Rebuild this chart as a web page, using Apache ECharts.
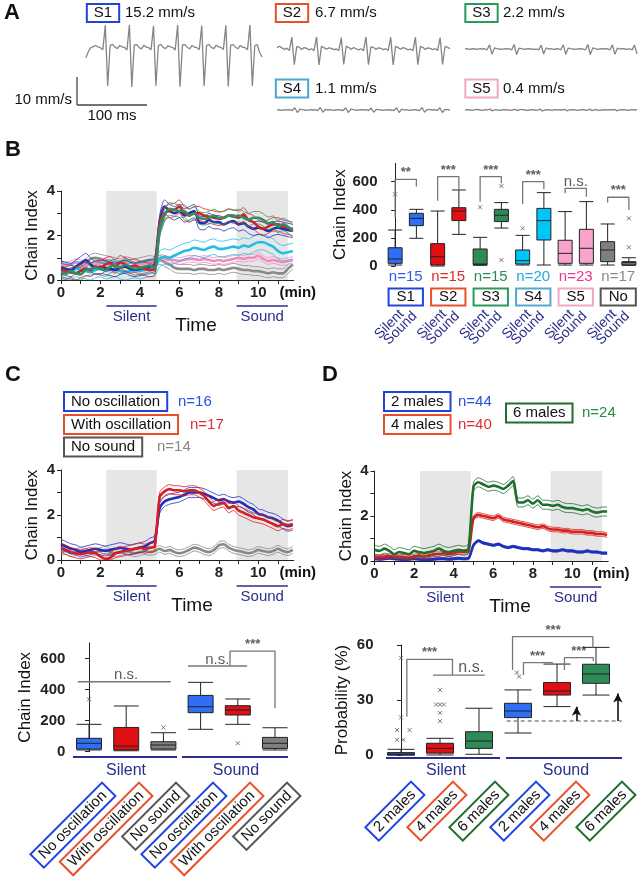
<!DOCTYPE html>
<html><head><meta charset="utf-8">
<script src="https://cdn.jsdelivr.net/npm/echarts@6/dist/echarts.min.js"></script>
<style>html,body{margin:0;padding:0;background:#fff}#c{width:644px;height:884px}</style>
</head><body><div id="c"></div>
<script>
const FONT = '"Liberation Sans", Arial, Helvetica, sans-serif';

// ---------- Panel A: example waveforms (mm/s) ----------
const waveS1 = [-3.5,-1.2,0.1,0.5,0.9,0.4,0.1,-0.6,
 8.1,-13.6,0.9,1.3,0.3,-0.2,0.9,0.4,0.2,-0.7,
 8.3,-13.9,1.0,1.2,0.2,-0.3,1.0,0.3,0.1,-0.6,
 7.9,-13.5,0.8,1.3,0.2,-0.2,0.8,0.4,0.2,-0.7,
 8.2,-13.8,1.1,1.2,0.3,-0.3,0.9,0.3,0.1,-0.6,
 8.0,-13.6,0.9,1.3,0.2,-0.2,1.0,0.4,0.2,-0.5,
 8.1,-13.7,1.0,1.2,0.3,-0.3,0.9,0.3,0.1,-0.6,
 8.2,-13.6,0.8,1.2,-1.5,-3.2];
const waveS2 = [0.5,1.0,0.4,-0.2,0.3,
 -0.5,4.2,-5.6,0.9,0.6,-0.2,0.5,0.2,-0.3,0.1,
 -0.6,4.3,-5.7,1.0,0.5,-0.1,0.4,0.2,-0.2,0.0,
 -0.5,4.1,-5.5,0.9,0.6,-0.2,0.5,0.1,-0.3,0.1,
 -0.6,4.3,-5.6,0.8,0.6,-0.2,0.4,0.2,-0.2,0.1,
 -0.5,4.2,-5.7,1.0,0.5,-0.1,0.5,0.2,-0.3,0.0,
 -0.6,4.2,-5.6,0.9,0.6,-0.2,0.4,0.2,-0.2,0.1,
 -0.5,4.1,-5.5,0.9,0.6,0.1];
const waveS3 = [0.1,0.0,-0.1,0.1,0.0,-0.1,0.1,0.0,0.1,-0.3,
 1.5,-1.9,0.4,0.1,0.0,-0.1,0.1,0.0,0.1,-0.3,
 1.6,-2.0,0.3,0.1,-0.1,0.0,0.1,0.0,-0.1,0.0,-0.3,
 1.4,-1.8,0.4,0.0,0.1,-0.1,0.0,0.1,-0.3,
 1.5,-1.9,0.3,0.1,0.0,-0.1,0.0,0.1,0.0,-0.3,
 1.6,-2.0,0.4,0.1,-0.1,0.0,0.1,0.0,0.1,-0.3,
 1.5,-1.9,0.3,0.0,0.1,0.0,-0.1,0.1,-0.3,
 1.4,-1.8];
const waveS4 = [0.1,0.0,-0.1,0.1,0.0,0.1,-0.2,
 0.8,-0.9,0.3,0.1,0.0,-0.1,0.1,0.0,0.1,-0.2,
 0.9,-0.8,0.2,0.0,0.1,-0.1,0.0,0.1,0.0,-0.2,
 0.8,-0.9,0.3,0.1,-0.1,0.0,0.1,0.0,0.1,-0.2,
 0.7,-0.8,0.2,0.1,0.0,-0.1,0.1,0.0,0.0,-0.2,
 0.8,-0.9,0.3,0.0,0.1,-0.1,0.0,0.1,0.0,-0.2,
 0.9,-0.8,0.2,0.1,0.0,0.1,-0.2,
 0.8,-0.9,0.2,0.1,0.0];
const waveS5 = [0.0,0.1,0.0,-0.1,0.1,0.2,0.0,-0.1,0.1,0.0,
 0.3,-0.3,0.1,0.0,-0.1,0.1,0.0,0.1,-0.1,0.0,
 0.2,-0.2,0.1,0.1,0.0,-0.1,0.0,0.1,0.0,-0.1,
 0.3,-0.3,0.0,0.1,0.0,-0.1,0.1,0.0,0.1,0.0,
 0.2,-0.3,0.1,0.0,0.1,-0.1,0.0,0.1,0.0,-0.1,
 0.3,-0.2,0.1,0.0,-0.1,0.0,0.1,0.0,0.1,0.0,
 0.2,-0.3,0.1,0.0,0.1,-0.1,0.0,0.1,0.0,0.1];
const waveLabels = ['S1','S2','S3','S4','S5'];
const waveSpeeds = ['15.2 mm/s','6.7 mm/s','2.2 mm/s','1.1 mm/s','0.4 mm/s'];

// ---------- time axis (min) ----------
const timeMin = [0,0.25,0.5,0.75,1,1.25,1.5,1.75,2,2.25,2.5,2.75,3,3.25,3.5,3.75,4,4.25,4.5,4.75,
 5,5.25,5.5,5.75,6,6.25,6.5,6.75,7,7.25,7.5,7.75,8,8.25,8.5,8.75,9,9.25,9.5,9.75,10,10.25,10.5,10.75,11,11.25,11.5,11.75];
const silentPeriod = [2.3, 4.85];
const soundPeriod = [8.9, 11.5];
const soundOnset = 5.0;

// ---------- Panel B: chain index time course ----------
const bS1 = [0.55,0.5,0.45,0.6,0.75,0.9,0.7,0.55,0.6,0.55,0.5,0.45,0.55,0.6,0.5,0.45,0.5,0.55,0.6,0.7,
 2.6,3.3,3.1,3.0,3.1,2.9,3.0,3.1,2.6,2.55,2.7,2.6,2.6,2.5,2.6,2.65,2.5,2.55,2.4,2.3,2.35,2.3,2.2,2.3,2.35,2.3,2.25,2.2];
const bS2 = [0.45,0.4,0.35,0.3,0.4,0.5,0.45,0.6,0.55,0.7,0.75,0.6,0.8,0.7,0.6,0.65,0.55,0.5,0.45,0.5,
 2.4,3.0,3.1,3.15,3.3,3.0,2.9,3.0,3.0,2.9,2.85,2.8,2.75,2.8,2.9,2.85,2.8,2.95,2.7,2.6,2.4,2.3,2.4,2.5,2.5,2.4,2.35,2.3];
const bS3 = [0.35,0.3,0.4,0.3,0.25,0.45,0.5,0.55,0.5,0.45,0.6,0.65,0.55,0.7,0.6,0.5,0.55,0.6,0.65,0.55,
 2.2,2.9,3.2,3.15,3.1,3.1,2.9,3.0,2.8,2.75,2.8,2.9,2.8,2.8,2.9,2.85,2.9,2.8,2.7,2.8,2.8,2.7,2.55,2.6,2.4,2.5,2.4,2.2];
const bS4 = [0.45,0.4,0.35,0.5,0.45,0.4,0.35,0.45,0.5,0.4,0.45,0.5,0.4,0.35,0.4,0.45,0.4,0.45,0.5,0.55,
 0.95,1.05,1.0,1.1,1.2,1.3,1.35,1.45,1.4,1.35,1.45,1.5,1.4,1.4,1.45,1.5,1.45,1.55,1.5,1.6,1.7,1.7,1.6,1.5,1.3,1.2,1.25,1.3];
const bS5 = [0.7,0.65,0.7,0.8,0.75,0.7,0.65,0.7,0.75,0.8,0.7,0.65,0.7,0.75,0.8,0.75,0.7,0.75,0.8,0.85,
 1.0,0.95,0.9,0.9,0.85,0.9,0.95,0.95,0.9,0.95,0.9,0.85,0.9,0.85,0.9,0.95,1.0,0.95,1.0,1.0,1.1,0.95,0.85,0.9,0.85,0.8,0.85,0.9];
const bNo = [0.4,0.45,0.5,0.55,0.6,0.75,0.95,1.0,0.95,0.9,0.85,0.8,0.75,0.85,0.8,0.75,0.8,0.85,0.9,0.85,
 0.9,0.8,0.7,0.55,0.5,0.5,0.5,0.45,0.5,0.5,0.45,0.45,0.5,0.45,0.5,0.55,0.5,0.45,0.45,0.4,0.4,0.35,0.3,0.35,0.3,0.3,0.5,0.7];
const bSem = [0.3, 0.3, 0.28, 0.35, 0.15, 0.2];

// ---------- Panel B: box plots (min, Q1, median, Q3, max) ----------
const bGroups = ['S1','S2','S3','S4','S5','No'];
const bN = ['n=15','n=15','n=15','n=20','n=23','n=17'];
const bBoxStats = [
 [7,19,50,130,256],[197,287,339,375,403],
 [0,7,66,159,391],[225,323,391,415,541],
 [5,9,14,121,204],[270,316,361,403,451],
 [7,14,38,114,218],[7,185,323,410,522],
 [7,19,90,183,387],[7,19,126,261,458],
 [7,31,114,173,299],[5,7,24,31,59]];
const bOutliers = [[0,510],[4,418],[5,569],[5,43],[6,268],[11,339],[11,133]];
const bSig = ['**','***','***','***','n.s.','***'];
const bBrackets = [
 [[0,346],[0,617],[1,617],[1,565]],
 [[2,465],[2,636],[3,636],[3,546]],
 [[4,458],[4,636],[5,636],[5,588]],
 [[6,441],[6,600],[7,600],[7,546]],
 [[8,517],[8,553],[9,553],[9,493]],
 [[10,451],[10,489],[11,489],[11,399]]];

// ---------- Panel C ----------
const cNo = [0.7,0.6,0.5,0.45,0.35,0.4,0.45,0.5,0.45,0.4,0.45,0.5,0.55,0.5,0.45,0.5,0.55,0.6,0.75,0.85,
 2.3,2.6,2.7,2.75,2.8,2.9,3.0,3.0,3.0,2.95,2.85,2.75,2.65,2.7,2.6,2.55,2.6,2.5,2.35,2.25,2.05,2.0,1.9,1.85,1.75,1.6,1.5,1.55];
const cWith = [0.55,0.45,0.35,0.3,0.25,0.3,0.35,0.3,0.15,0.05,0.1,0.3,0.35,0.4,0.45,0.5,0.55,0.5,0.55,0.6,
 2.8,3.05,3.15,3.1,3.1,3.05,3.1,3.1,3.0,2.85,2.6,2.4,2.5,2.55,2.3,2.4,2.2,2.1,2.0,1.9,1.85,1.8,1.7,1.6,1.5,1.6,1.55,1.6];
const cNoSound = [0.35,0.4,0.3,0.35,0.4,0.35,0.3,0.35,0.4,0.45,0.35,0.3,0.35,0.4,0.35,0.3,0.35,0.4,0.35,0.4,
 0.5,0.4,0.45,0.35,0.3,0.35,0.45,0.55,0.5,0.4,0.35,0.45,0.65,0.7,0.55,0.45,0.4,0.35,0.3,0.35,0.45,0.4,0.35,0.4,0.5,0.4,0.35,0.45];
const cSem = [0.22, 0.2, 0.15];
const cLegend = ['No oscillation','With oscillation','No sound'];
const cN = ['n=16','n=17','n=14'];
const cBoxStats = [[11,17,54,86,176],[6,11,36,156,294],[11,17,43,64,122],
 [144,251,289,362,446],[176,236,268,296,339],[11,21,54,92,154]];
const cOutliers = [[0,337],[2,156],[4,54]];

// ---------- Panel D ----------
const dTwo = [0.1,0.08,0.1,0.12,0.1,0.08,0.05,0.08,0.1,0.08,0.05,0.06,0.08,0.1,0.1,0.08,0.1,0.12,0.1,0.12,
 0.7,0.9,0.8,0.75,0.7,0.75,0.65,0.6,0.65,0.6,0.55,0.55,0.5,0.5,0.45,0.5,0.45,0.45,0.5,0.45,0.45,0.4,0.4,0.45,0.4,0.4,0.35,0.35];
const dFour = [0.2,0.18,0.2,0.22,0.2,0.2,0.18,0.15,0.2,0.25,0.2,0.25,0.3,0.3,0.35,0.3,0.35,0.4,0.4,0.45,
 1.9,2.05,2.0,1.95,1.9,2.0,1.85,1.8,1.75,1.7,1.65,1.6,1.55,1.5,1.55,1.45,1.4,1.4,1.35,1.35,1.3,1.3,1.3,1.25,1.25,1.2,1.2,1.15];
const dSix = [0.5,0.45,0.55,0.45,0.3,0.4,0.35,0.3,0.45,0.4,0.35,0.4,0.45,0.55,0.45,0.4,0.45,0.5,0.45,0.55,
 3.3,3.5,3.4,3.3,3.35,3.3,3.2,3.35,3.55,2.6,2.6,2.7,2.55,2.7,2.5,2.5,2.45,2.5,2.4,2.35,2.35,2.3,2.25,2.3,2.2,2.15,2.2,2.2];
const dSem = [0.05, 0.1, 0.2];
const dLegend = ['2 males','4 males','6 males'];
const dN = ['n=44','n=40','n=24'];
const dBoxStats = [[0,0,0.5,1.3,3.1],[0,1,3.6,6.4,9.1],[0.4,3.6,7.6,12.7,25.5],
 [12,20.4,24,28.2,35.5],[26.4,32.7,34.9,39.5,49.6],[32.7,39.1,44.2,49.5,58.7]];
const dOutliers = [[0,53],[0,20.5],[-0.1,13.6],[0.22,13.6],[-0.1,8.3],[0.06,8.3],
 [1,35.5],[0.9,27.5],[1,27.5],[1.1,27.5],[1,23],[1,18.5],[2.97,45],[3.03,42.8]];
const dChance = 18.5;
const dChanceSpan = [2.71, 5.66];
const dArrowTops = [[4.5,26.3],[5.56,33.6]];

// ---------- colours ----------
const C_BLUE='#1f2fc0', C_RED='#d81e1e', C_GREEN='#2e9060', C_CYAN='#20bfe8', C_PINK='#f08cbc', C_GRAY='#8a8a8a', C_DGREEN='#1e6e2e';
const F_BLUE='#2f6ef5', F_RED='#e10f14', F_GREEN='#2e8b57', F_CYAN='#00c5f7', F_PINK='#f9a3cb', F_GRAY='#7f7f7f';
const NAVY='#2b2e8c';

const chart = echarts.init(document.getElementById('c'), null, {renderer:'canvas'});
const grids=[], xAxes=[], yAxes=[], series=[], gfx=[];

function zip(arr){ return arr.map((v,i)=>[timeMin[i], v]); }
function T(x,y,text,o){ o=o||{};
  const st={text:String(text), font:(o.bold?'bold ':'')+(o.size||15)+'px '+FONT, fill:o.color||'#111',
    align:o.align||'left', verticalAlign:o.va||'middle'};
  if(o.border){ st.borderColor=o.border; st.borderWidth=o.bw||2; st.padding=o.pad||[1,6,1,6]; st.backgroundColor='#fff'; }
  gfx.push({type:'text', x:x, y:y, rotation:o.rot||0, style:st, z:50, silent:true});
}
function L(x1,y1,x2,y2,color,w){ gfx.push({type:'line', shape:{x1,y1,x2,y2}, style:{stroke:color, lineWidth:w||1}, z:50, silent:true}); }

// ---- Panel A grids ----
const waveGrids = [[86,20,176],[277,21,173],[465,21,172],[277,82,173],[465,82,172]];
const waves = [waveS1,waveS2,waveS3,waveS4,waveS5];
waves.forEach((w,i)=>{
  const g=grids.length;
  grids.push({left:waveGrids[i][0], top:waveGrids[i][1], width:waveGrids[i][2], height:72.8, outerBoundsMode:'none'});
  xAxes.push({type:'category', gridIndex:g, show:false, boundaryGap:false, data:w.map((_,k)=>k)});
  yAxes.push({type:'value', gridIndex:g, show:false, min:-16, max:10});
  series.push({type:'line', xAxisIndex:xAxes.length-1, yAxisIndex:yAxes.length-1, data:w, symbol:'none',
    lineStyle:{color:'#858585', width:1.3}, silent:true});
});

function timeXAxis(g){ return {type:'value', gridIndex:g, min:0, max:11.8,
  axisLine:{show:true, lineStyle:{color:'#222', width:1}},
  axisTick:{show:true, length:4, lineStyle:{color:'#222'}, customValues:[0,1,2,3,4,5,6,7,8,9,10,11]},
  axisLabel:{customValues:[0,2,4,6,8,10], fontWeight:'bold', fontSize:15, color:'#222', margin:5, fontFamily:FONT},
  splitLine:{show:false}}; }
function timeYAxis(g, gap){ return {type:'value', gridIndex:g, min:0, max:4, interval:1,
  axisLine:{show:true, lineStyle:{color:'#222', width:1}},
  axisTick:{show:true, length:4, lineStyle:{color:'#222'}},
  axisLabel:{formatter:v=>(v%2===0?String(v):''), fontWeight:'bold', fontSize:15, color:'#222', margin:6, fontFamily:FONT},
  splitLine:{show:false}, name:'Chain Index', nameLocation:'middle', nameGap:gap, nameRotate:90,
  nameTextStyle:{fontSize:17, color:'#111', fontFamily:FONT}}; }

function addTimeChart(left, top, width, height, groups, gap){
  const g=grids.length;
  grids.push({left, top, width, height, outerBoundsMode:'none'});
  xAxes.push(timeXAxis(g)); const xi=xAxes.length-1;
  yAxes.push(timeYAxis(g, gap)); const yi=yAxes.length-1;
  series.push({type:'line', xAxisIndex:xi, yAxisIndex:yi, data:[], clip:false, silent:true,
    markArea:{silent:true, itemStyle:{color:'#e6e6e6'}, data:[[{xAxis:silentPeriod[0]},{xAxis:silentPeriod[1]}],[{xAxis:soundPeriod[0]},{xAxis:soundPeriod[1]}]]},
    markLine:{silent:true, symbol:'none', label:{show:false}, lineStyle:{type:[2,3], color:'#333', width:2},
      data:[[{coord:[soundOnset,4]},{coord:[soundOnset,-0.9]}]]}});
  groups.forEach(([arr, sem, color])=>{
    const lo = arr.map(v=>Math.max(0,v-sem)), hi = arr.map(v=>v+sem);
    [lo,hi].forEach(a=>series.push({type:'line', xAxisIndex:xi, yAxisIndex:yi, data:zip(a), symbol:'none', smooth:0.25,
      lineStyle:{color, width:0.8}, silent:true}));
    series.push({type:'line', xAxisIndex:xi, yAxisIndex:yi, data:zip(arr), symbol:'none', smooth:0.25,
      lineStyle:{color, width:2.6}, silent:true});
  });
}

addTimeChart(61, 191, 232.8, 89, [[bNo,bSem[5],C_GRAY],[bS5,bSem[4],C_PINK],[bS4,bSem[3],C_CYAN],[bS1,bSem[0],C_BLUE],[bS2,bSem[1],C_RED],[bS3,bSem[2],C_GREEN]], 20);
addTimeChart(61, 470, 232.8, 90, [[cNoSound,cSem[2],'#888'],[cNo,cSem[0],C_BLUE],[cWith,cSem[1],C_RED]], 20);
addTimeChart(374.5, 471, 233.6, 90, [[dTwo,dSem[0],C_BLUE],[dFour,dSem[1],C_RED],[dSix,dSem[2],C_DGREEN]], 20);

// ---- box charts ----
const xSym = 'path://M0,0L10,10M10,0L0,10';
function addBoxChart(o){
  const g=grids.length;
  grids.push({left:o.left, top:o.top, width:o.width, height:o.height, outerBoundsMode:'none'});
  xAxes.push({type:'category', gridIndex:g, show:false, data:o.stats.map((_,i)=>i)}); const xc=xAxes.length-1;
  xAxes.push({type:'value', gridIndex:g, show:false, min:-0.5, max:o.stats.length-0.5}); const xv=xAxes.length-1;
  yAxes.push({type:'value', gridIndex:g, min:0, max:o.max, offset:o.offset||0,
    axisLine:{show:true, lineStyle:{color:'#222'}},
    axisTick:{show:true, length:4, lineStyle:{color:'#222'}, customValues:o.ticks},
    axisLabel:{customValues:o.ticks, fontWeight:'bold', fontSize:15, color:'#222', margin:5, fontFamily:FONT},
    splitLine:{show:false}, name:o.name, nameLocation:'middle', nameGap:o.nameGap, nameRotate:90,
    nameTextStyle:{fontSize:17, color:'#111', fontFamily:FONT}});
  const yi=yAxes.length-1;
  series.push({type:'boxplot', xAxisIndex:xc, yAxisIndex:yi, boxWidth:[o.boxW,o.boxW], silent:true,
    data:o.stats.map((s,i)=>({value:s, itemStyle:{color:o.fills[i], borderColor:'#222', borderWidth:1}}))});
  series.push({type:'scatter', xAxisIndex:xv, yAxisIndex:yi, data:o.outliers, symbol:xSym, symbolSize:4, silent:true,
    itemStyle:{color:'none', borderColor:'#555', borderWidth:1}});
  o.brackets.forEach(b=>series.push({type:'line', xAxisIndex:xv, yAxisIndex:yi, data:b, symbol:'none', clip:false, silent:true,
    lineStyle:{color:'#777', width:1.3}}));
  series.push({type:'scatter', xAxisIndex:xv, yAxisIndex:yi, symbolSize:0.1, clip:false, silent:true, itemStyle:{color:'transparent'},
    data:o.texts.map(t=>({value:[t[0],t[1]], label:{show:true, position:'top', distance:t[2]==='n.s.'?-1:0, formatter:t[2],
      fontSize:t[2]==='n.s.'?o.nsSize:13, fontWeight:t[2]==='n.s.'?'normal':'bold', color:'#333', fontFamily:FONT}}))});
  return {xv, yi};
}

addBoxChart({left:384.5, top:163.4, width:255, height:102.6, max:730, offset:2, ticks:[0,200,400,600],
  name:'Chain Index', nameGap:34, boxW:14, stats:bBoxStats,
  fills:[F_BLUE,F_BLUE,F_RED,F_RED,F_GREEN,F_GREEN,F_CYAN,F_CYAN,F_PINK,F_PINK,F_GRAY,F_GRAY],
  outliers:bOutliers, brackets:bBrackets, nsSize:15,
  texts:bBrackets.map((b,i)=>[(b[0][0]+b[2][0])/2, b[1][1], bSig[i]])});

addBoxChart({left:70.4, top:642.85, width:223.2, height:108.85, max:700, ticks:[0,200,400,600],
  name:'Chain Index', nameGap:37, boxW:25, stats:cBoxStats,
  fills:[F_BLUE,F_RED,F_GRAY,F_BLUE,F_RED,F_GRAY], outliers:cOutliers, nsSize:15,
  brackets:[[[-0.3,450],[2.2,450]],[[2.66,551],[4.25,551]],[[3.79,551],[3.79,647],[5.0,647],[5.0,279]]],
  texts:[[1,450,'n.s.'],[3.45,551,'n.s.'],[4.4,647,'***']]});

addBoxChart({left:381.5, top:645, width:234, height:110, max:60, offset:3, ticks:[0,30,60],
  name:'Probability (%)', nameGap:28, boxW:27, stats:dBoxStats,
  fills:[F_BLUE,F_RED,F_GREEN,F_BLUE,F_RED,F_GREEN], outliers:dOutliers, nsSize:16,
  brackets:[[[0.15,20.9],[0.15,52.2],[1.32,52.2],[1.32,43.6]],[[0.82,43.6],[2.15,43.6]],
    [[2.86,46.4],[2.86,64.6],[4.92,64.6],[4.92,58.7]],
    [[3.14,43.6],[3.14,50.4],[3.88,50.4],[3.88,49.1]],
    [[4.19,46.4],[4.19,53.1],[4.93,53.1],[4.93,51.3]]],
  texts:[[0.73,52.2,'***'],[1.8,43.6,'n.s.'],[3.9,64.6,'***'],[3.5,50.4,'***'],[4.56,53.1,'***']]});

// overlay grid (same scale as the D box chart, wider) for chance level and arrows
{
  const g=grids.length;
  grids.push({left:381.5, top:645, width:234*7/6, height:110, outerBoundsMode:'none'});
  xAxes.push({type:'value', gridIndex:g, show:false, min:-0.5, max:6.5}); const xo=xAxes.length-1;
  yAxes.push({type:'value', gridIndex:g, show:false, min:0, max:60}); const yo=yAxes.length-1;
  series.push({type:'line', xAxisIndex:xo, yAxisIndex:yo, data:[[dChanceSpan[0],dChance],[dChanceSpan[1],dChance]], symbol:'none', silent:true,
    lineStyle:{color:'#888', width:1.5, type:[4,3]},
    markLine:{silent:true, symbol:['none','arrow'], symbolSize:[7,9], label:{show:false}, lineStyle:{color:'#111', width:1.6, type:'solid'},
      data:dArrowTops.map(a=>[{coord:[a[0],dChance]},{coord:[a[0],a[1]]}])}});
}

// ---------- graphics: text annotations ----------
T(4,13,'A',{bold:true,size:22}); T(5,150,'B',{bold:true,size:22}); T(5,375,'C',{bold:true,size:22}); T(322,375,'D',{bold:true,size:22});
const waveLab = [[103,13,'#2244dd',125],[292,13,'#e8502a',315],[481.5,13,'#2a9a5a',503],[292,88.5,'#4aa8d0',315],[481.5,88.5,'#f0a8c8',503]];
waveLab.forEach((p,i)=>{ T(p[0],p[1],waveLabels[i],{align:'center',border:p[2],pad:[1,6,0,6]}); T(p[3],p[1],waveSpeeds[i],{size:15}); });
L(77,77,77,105,'#444',1.3); L(77,105,147,105,'#444',1.3);
T(72,100,'10 mm/s',{align:'right'}); T(112,116,'100 ms',{align:'center'});

function timeDeco(x0, y0, timeX){
  const px = m => x0 + m*19.73;
  T(px(12), y0+13, '(min)', {bold:true, align:'center'});
  L(px(silentPeriod[0]), y0+26, px(silentPeriod[1]), y0+26, NAVY, 1.6);
  L(px(soundPeriod[0]), y0+26, px(soundPeriod[1]), y0+26, NAVY, 1.6);
  T((px(silentPeriod[0])+px(silentPeriod[1]))/2, y0+37, 'Silent', {align:'center', color:NAVY, size:15});
  T((px(soundPeriod[0])+px(soundPeriod[1]))/2, y0+37, 'Sound', {align:'center', color:NAVY, size:15});
  T(timeX, y0+46, 'Time', {align:'center', size:19});
}
timeDeco(61, 280, 196); timeDeco(61, 560, 192); timeDeco(374.5, 561, 510);

const bNColors = ['#2a5bf0','#e3262b','#2a8a55','#22a8e0','#e8388a','#8a8a8a'];
const bBoxBorders = ['#2244dd','#e8502a','#2a9a5a','#55a8d0','#f0a8c8','#555'];
bGroups.forEach((gname,i)=>{
  const cx = 384.5 + 21.25*(2*i+1);
  T(cx, 277, bN[i], {align:'center', color:bNColors[i], size:15});
  T(cx, 297, gname, {align:'center', border:bBoxBorders[i], pad:[0,7,0,7]});
  T(cx-4, 312, 'Silent', {align:'right', color:NAVY, size:14, rot:Math.PI/4});
  T(cx+9, 314, 'Sound', {align:'right', color:NAVY, size:14, rot:Math.PI/4});
});

const cLegBorder = ['#2244dd','#e8502a','#555'];
const cNColor = ['#2a50e0','#e02a2a','#888'];
const cLegY = [401.5,424.5,447];
const cNX = [178,190,157];
cLegend.forEach((t,i)=>{ T(65,cLegY[i],t,{border:cLegBorder[i]}); T(cNX[i],cLegY[i],cN[i],{color:cNColor[i]}); });
const dLegBorder = ['#2244dd','#e8502a','#1e6e2e'];
const dNColor = ['#2a50e0','#e02a2a','#2a8a4a'];
[[385,401.5,458],[385,424.5,458],[507,413,582]].forEach((p,i)=>{ T(p[0],p[1],dLegend[i],{border:dLegBorder[i]}); T(p[2],p[1],dN[i],{color:dNColor[i]}); });

L(73,757,177,757,NAVY,2); L(182,757,288,757,NAVY,2);
T(126,771,'Silent',{align:'center',color:NAVY,size:16}); T(236,771,'Sound',{align:'center',color:NAVY,size:16});
const cRotX = [108,145,182,219,256,293];
const cRotText = [cLegend[0],cLegend[1],cLegend[2],cLegend[0],cLegend[1],cLegend[2]];
cRotX.forEach((x,i)=>T(x,790,cRotText[i],{align:'right',rot:Math.PI/4,border:cLegBorder[i%3],pad:[1,5,1,5]}));
L(386,758,500,758,NAVY,2); L(506,758,622,758,NAVY,2);
T(446,771,'Silent',{align:'center',color:NAVY,size:16}); T(566,771,'Sound',{align:'center',color:NAVY,size:16});
const dRotX = [417,459,501,542,582,628];
dRotX.forEach((x,i)=>T(x,789,dLegend[i%3],{align:'right',rot:Math.PI/4,border:dLegBorder[i%3],pad:[1,5,1,5]}));

chart.setOption({animation:false, backgroundColor:'#fff', textStyle:{fontFamily:FONT},
  grid:grids, xAxis:xAxes, yAxis:yAxes, series:series, graphic:{elements:gfx}});
</script></body></html>
